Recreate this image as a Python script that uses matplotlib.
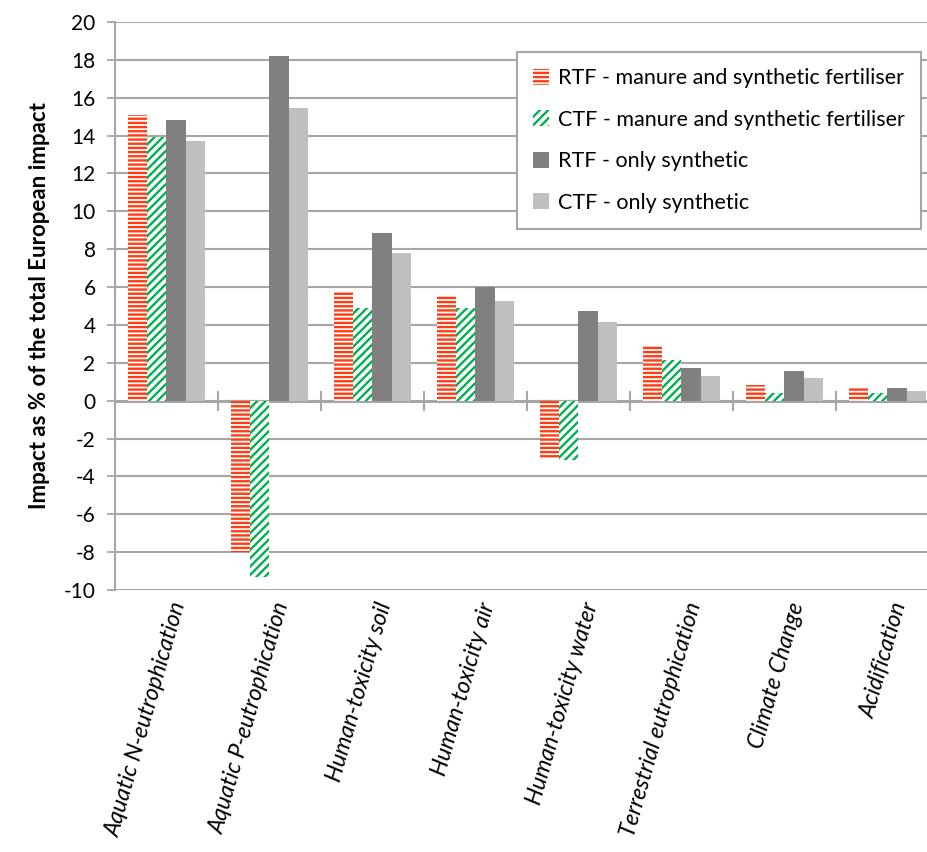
import numpy as np
import matplotlib
matplotlib.use("Agg")
import matplotlib.pyplot as plt
import matplotlib.transforms as mtransforms
from matplotlib.patches import Patch

# --- data ---
categories = ["Aquatic N-eutrophication", "Aquatic P-eutrophication",
              "Human-toxicity soil", "Human-toxicity air", "Human-toxicity water",
              "Terrestrial eutrophication", "Climate Change", "Acidification"]
rtf_manure = [15.1, -8.0, 5.8, 5.55, -3.1, 2.9, 0.85, 0.67]
ctf_manure = [13.95, -9.3, 4.9, 4.9, -3.15, 2.15, 0.4, 0.4]
rtf_synth = [14.85, 18.2, 8.85, 6.0, 4.75, 1.7, 1.58, 0.65]
ctf_synth = [13.7, 15.45, 7.8, 5.25, 4.17, 1.28, 1.2, 0.5]
series_labels = ["RTF - manure and synthetic fertiliser",
                 "CTF - manure and synthetic fertiliser",
                 "RTF - only synthetic",
                 "CTF - only synthetic"]

red = "#ff3d14"
green = "#00b050"
dark = "#808080"
light = "#bfbfbf"
grid_col = "#a6a6a6"

plt.rcParams['font.family'] = ['Lato', 'DejaVu Sans']
plt.rcParams['hatch.linewidth'] = 1.7
plt.rcParams['axes.unicode_minus'] = False

fig = plt.figure(figsize=(9.28, 8.52), dpi=100)
ax = fig.add_axes([115/928, 1 - 590/852, (939 - 115)/928, (590 - 22)/852])

x = np.arange(len(categories))
w = 0.185

ax.bar(x - 1.5*w, rtf_manure, w, facecolor="white", edgecolor=red, hatch="----", linewidth=0)
ax.bar(x - 0.5*w, ctf_manure, w, facecolor="white", edgecolor=green, hatch="////", linewidth=0)
ax.bar(x + 0.5*w, rtf_synth, w, color=dark, linewidth=0)
ax.bar(x + 1.5*w, ctf_synth, w, color=light, linewidth=0)

ax.set_xlim(-0.5, 7.5)
ax.set_ylim(-10, 20)
ax.set_yticks(np.arange(-10, 21, 2))
ax.yaxis.grid(True, color=grid_col, linewidth=1.5)
ax.set_axisbelow(True)
ax.tick_params(axis='y', length=6, width=1.3, color=grid_col, pad=8, labelsize=15)

for s in ["top", "right", "bottom"]:
    ax.spines[s].set_visible(False)
ax.spines["left"].set_color(grid_col)
ax.spines["left"].set_linewidth(1.5)

ax.set_xticks(x)
ax.set_xticklabels(categories, rotation=74, ha="right", va="center",
                   rotation_mode="anchor", style="italic", fontsize=16.5)
ax.tick_params(axis='x', length=0, pad=9)
shift = mtransforms.ScaledTranslation(0.13, 0, fig.dpi_scale_trans)
for lab in ax.get_xticklabels():
    lab.set_transform(lab.get_transform() + shift)

# zero line with category separator ticks
zero_ax = ax.secondary_xaxis(1/3)
zero_ax.set_xticks(np.arange(0.5, 7.5, 1))
zero_ax.set_xticklabels([])
zero_ax.tick_params(axis='x', direction='inout', length=14, width=1.5, color=grid_col)
zero_ax.spines["bottom"].set_color(grid_col)
zero_ax.spines["bottom"].set_linewidth(2.2)
zero_ax.spines["top"].set_visible(False)

ax.set_ylabel("Impact as % of the total European impact", fontsize=16,
              fontweight="bold", labelpad=10)

handles = [Patch(facecolor="white", edgecolor=red, hatch="----", linewidth=0),
           Patch(facecolor="white", edgecolor=green, hatch="////", linewidth=0),
           Patch(facecolor=dark, linewidth=0),
           Patch(facecolor=light, linewidth=0)]
leg = ax.legend(handles, series_labels, loc="upper left",
                bbox_to_anchor=((517 - 115)/824, 1 - (52 - 22)/568),
                fontsize=15.5, frameon=True, fancybox=False, framealpha=1,
                edgecolor=grid_col, handlelength=0.75, handleheight=0.75,
                handletextpad=0.4, labelspacing=1.0, borderpad=0.75,
                borderaxespad=0)
leg.get_frame().set_linewidth(1.5)

fig.savefig("out.png", dpi=100)
